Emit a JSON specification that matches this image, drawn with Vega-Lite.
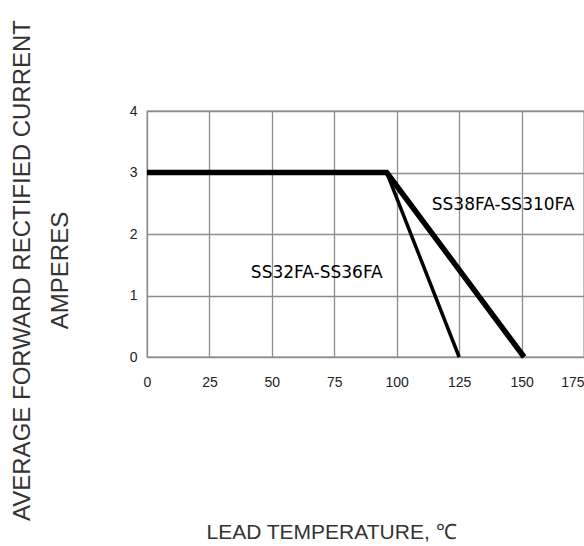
{
  "$schema": "https://vega.github.io/schema/vega-lite/v6.json",
  "width": 437,
  "height": 246,
  "autosize": {"type": "none"},
  "padding": {"left": 147, "top": 111, "right": 0, "bottom": 189},
  "background": "white",
  "datasets": {
    "curves": [
      {"series": "SS32FA-SS36FA", "temp": 0, "amps": 3},
      {"series": "SS32FA-SS36FA", "temp": 96, "amps": 3},
      {"series": "SS32FA-SS36FA", "temp": 125, "amps": 0},
      {"series": "SS38FA-SS310FA", "temp": 0, "amps": 3},
      {"series": "SS38FA-SS310FA", "temp": 96, "amps": 3},
      {"series": "SS38FA-SS310FA", "temp": 151, "amps": 0}
    ],
    "labels": [
      {"text": "SS32FA-SS36FA", "temp": 68, "amps": 1.36},
      {"text": "SS38FA-SS310FA", "temp": 142.6, "amps": 2.47}
    ]
  },
  "layer": [
    {
      "data": {"name": "curves"},
      "mark": {"type": "line", "color": "black", "strokeCap": "butt", "strokeJoin": "miter"},
      "encoding": {
        "x": {
          "field": "temp",
          "type": "quantitative",
          "scale": {"domain": [0, 175], "nice": false},
          "axis": {
            "values": [0, 25, 50, 75, 100, 125, 150, 175],
            "format": "d",
            "title": "LEAD TEMPERATURE, ℃",
            "titleFont": "Liberation Sans",
            "titleFontSize": 21,
            "titleFontWeight": "normal",
            "titleColor": "#333",
            "titleAnchor": "start",
            "titleAlign": "center",
            "titleBaseline": "alphabetic",
            "titleX": 184,
            "titleY": 181,
            "labelFont": "Liberation Sans",
            "labelFontSize": 14,
            "labelColor": "#222",
            "labelPadding": 18,
            "labelFlush": false,
            "labelAlign": {"condition": {"test": "datum.value == 175", "value": "right"}, "value": "center"},
            "ticks": false,
            "domain": false,
            "grid": true,
            "gridColor": "#8c8c8c",
            "gridWidth": 1.3,
            "gridOpacity": 1
          }
        },
        "y": {
          "field": "amps",
          "type": "quantitative",
          "scale": {"domain": [0, 4], "nice": false},
          "axis": {
            "values": [0, 1, 2, 3, 4],
            "format": "d",
            "title": ["AVERAGE FORWARD RECTIFIED CURRENT", "AMPERES"],
            "titleFont": "Liberation Sans",
            "titleFontSize": 24,
            "titleFontWeight": "normal",
            "titleColor": "#333",
            "titleAngle": -90,
            "titleAnchor": "start",
            "titleAlign": "center",
            "titleBaseline": "top",
            "titleLineHeight": 38,
            "titleX": -137,
            "titleY": 159,
            "labelFont": "Liberation Sans",
            "labelFontSize": 14,
            "labelColor": "#222",
            "labelPadding": 10,
            "labelFlush": false,
            "ticks": false,
            "domain": false,
            "grid": true,
            "gridColor": "#8c8c8c",
            "gridWidth": 1.3,
            "gridOpacity": 1
          }
        },
        "detail": {"field": "series", "type": "nominal"},
        "strokeWidth": {
          "field": "series",
          "type": "nominal",
          "scale": {"domain": ["SS32FA-SS36FA", "SS38FA-SS310FA"], "range": [3.5, 5.5]},
          "legend": null
        }
      }
    },
    {
      "data": {"name": "labels"},
      "mark": {"type": "text", "font": "DejaVu Sans", "fontSize": 17, "color": "black", "align": "center", "baseline": "middle"},
      "encoding": {
        "x": {"field": "temp", "type": "quantitative"},
        "y": {"field": "amps", "type": "quantitative"},
        "text": {"field": "text", "type": "nominal"}
      }
    }
  ],
  "config": {
    "view": {"stroke": "#8c8c8c", "strokeWidth": 1.3}
  }
}
